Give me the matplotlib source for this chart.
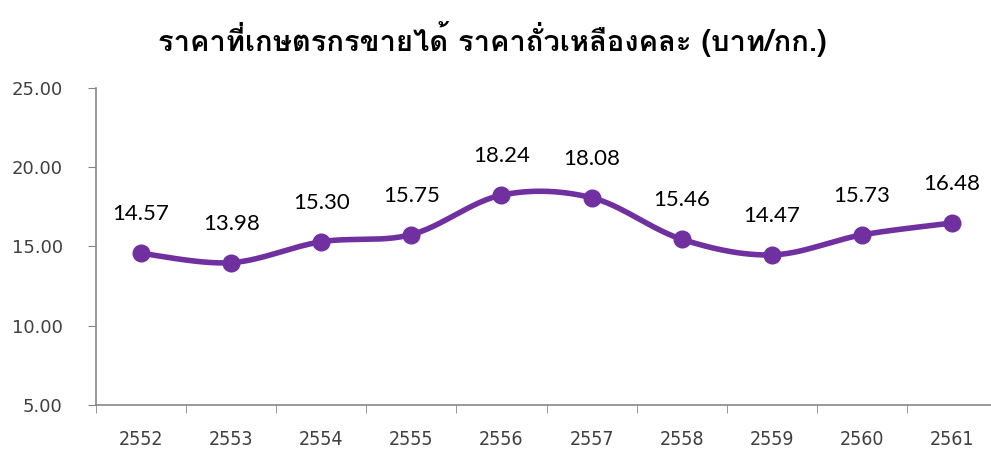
import numpy as np
import matplotlib
matplotlib.use("Agg")
import matplotlib.pyplot as plt
from matplotlib import font_manager
from matplotlib.ft2font import FT2Font

years = ['2552', '2553', '2554', '2555', '2556', '2557', '2558', '2559', '2560', '2561']
prices = [14.57, 13.98, 15.30, 15.75, 18.24, 18.08, 15.46, 14.47, 15.73, 16.48]
title = 'ราคาที่เกษตรกรขายได้ ราคาถั่วเหลืองคละ (บาท/กก.)'

# find a font that has Thai glyphs
thai_font = None
for f in font_manager.fontManager.ttflist:
    try:
        if ord('ร') in FT2Font(f.fname).get_charmap():
            thai_font = f.name
            break
    except Exception:
        pass
families = [thai_font, 'DejaVu Sans'] if thai_font else ['DejaVu Sans']


def smooth(x, y, n=30):
    # Excel-like smoothed line: cubic bezier with catmull-rom control points
    x = np.asarray(x, float)
    y = np.asarray(y, float)
    px = np.concatenate([[x[0]], x, [x[-1]]])
    py = np.concatenate([[y[0]], y, [y[-1]]])
    xs, ys = [], []
    t = np.linspace(0, 1, n)
    for i in range(1, len(x)):
        p0 = np.array([px[i], py[i]])
        p3 = np.array([px[i + 1], py[i + 1]])
        c1 = p0 + (p3 - np.array([px[i - 1], py[i - 1]])) / 6
        c2 = p3 - (np.array([px[i + 2], py[i + 2]]) - p0) / 6
        b = ((1 - t) ** 3)[:, None] * p0 + (3 * (1 - t) ** 2 * t)[:, None] * c1 \
            + (3 * (1 - t) * t ** 2)[:, None] * c2 + (t ** 3)[:, None] * p3
        xs.extend(b[:, 0])
        ys.extend(b[:, 1])
    return np.array(xs), np.array(ys)


fig = plt.figure(figsize=(9.91, 4.55), dpi=100)
ax = fig.add_axes([96 / 991, 1 - 405 / 455, 901 / 991, 317 / 455])

pos = np.arange(len(years))
sx, sy = smooth(pos, prices)
purple = '#7030A0'
ax.plot(sx, sy, color=purple, lw=4, solid_capstyle='round', zorder=3)
ax.plot(pos, prices, 'o', color=purple, ms=12, zorder=4)

for xi, v in zip(pos, prices):
    ax.annotate(f'{v:.2f}', (xi, v), xytext=(0, 28), textcoords='offset points',
                ha='center', va='center', fontsize=16, family='Lato', color='black')

ax.set_xlim(-0.5, len(years) - 0.5)
ax.set_ylim(5, 25)
ax.set_yticks([5, 10, 15, 20, 25])
ax.set_yticklabels([f'{v:.2f}' for v in [5, 10, 15, 20, 25]], fontsize=13,
                   family='DejaVu Sans', color='#404040')
ax.set_xticks(pos)
ax.set_xticklabels(years, fontsize=14, family='DejaVu Sans', stretch='condensed',
                   color='#404040')
ax.set_xticks(np.arange(-0.5, len(years)), minor=True)
ax.tick_params(axis='x', which='major', length=0, pad=18)
ax.tick_params(axis='x', which='minor', length=6, color='#868686', direction='out')
ax.tick_params(axis='y', length=6, color='#868686', direction='out', pad=18)

for s in ['top', 'right']:
    ax.spines[s].set_visible(False)
for s in ['left', 'bottom']:
    ax.spines[s].set_color('#868686')
    ax.spines[s].set_linewidth(1.2)

fig.text(492 / 991, 1 - 39 / 455, title, ha='center', va='center', fontsize=21,
         fontweight='bold', family=families)

fig.savefig('out.png', dpi=100)
